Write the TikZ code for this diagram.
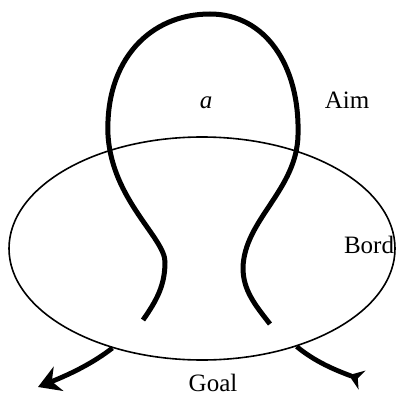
\documentclass[tikz,border=0pt]{standalone}
\usepackage{fontspec}
\setmainfont{Liberation Serif}
\usetikzlibrary{arrows.meta,shapes.geometric}

\begin{document}
\begin{tikzpicture}[
    x=1pt, y=-1pt,
    every node/.style={font=\fontsize{25}{30}\selectfont, inner sep=0pt},
    bordline/.style={draw, ellipse, line width=1.6pt, minimum width=386pt, minimum height=223pt},
    loopline/.style={line width=5pt},
    arr/.style={line width=4.8pt},
]
    \useasboundingbox (0,0) rectangle (399,396);

    \node[bordline] (bord) at (202,248.5) {};

    % the thick loop
    \draw[loopline] (143,320) .. controls (157,300) and (165,285) .. (165,262)
        .. controls (165,238) and (112,200) .. (108,135)
        .. controls (105,60) and (150,14) .. (210,14)
        .. controls (265,14) and (300,65) .. (298,135)
        .. controls (297,190) and (244,220) .. (243,268)
        .. controls (243,290) and (255,305) .. (270,324);

    \node[anchor=base, font=\fontsize{25}{30}\selectfont\itshape] (a) at (206,108) {a};
    \node[anchor=base] (aim) at (347,108) {Aim};
    \node[anchor=base] (bordlbl) at (369,253) {Bord};
    \node[anchor=base] (goal) at (213,391) {Goal};

    \coordinate (goalL) at (38,387);
    \coordinate (goalR) at (362,380);
    \draw[arr, -{Stealth[length=22pt, width=26pt]}] (bord.228) .. controls +(-18,14) and +(35,-14) .. (goalL);
    \draw[arr, -{Stealth[reversed, length=14pt, width=20pt]}] (bord.314) .. controls +(18,15) and +(-27,-10) .. (goalR);
\end{tikzpicture}
\end{document}
